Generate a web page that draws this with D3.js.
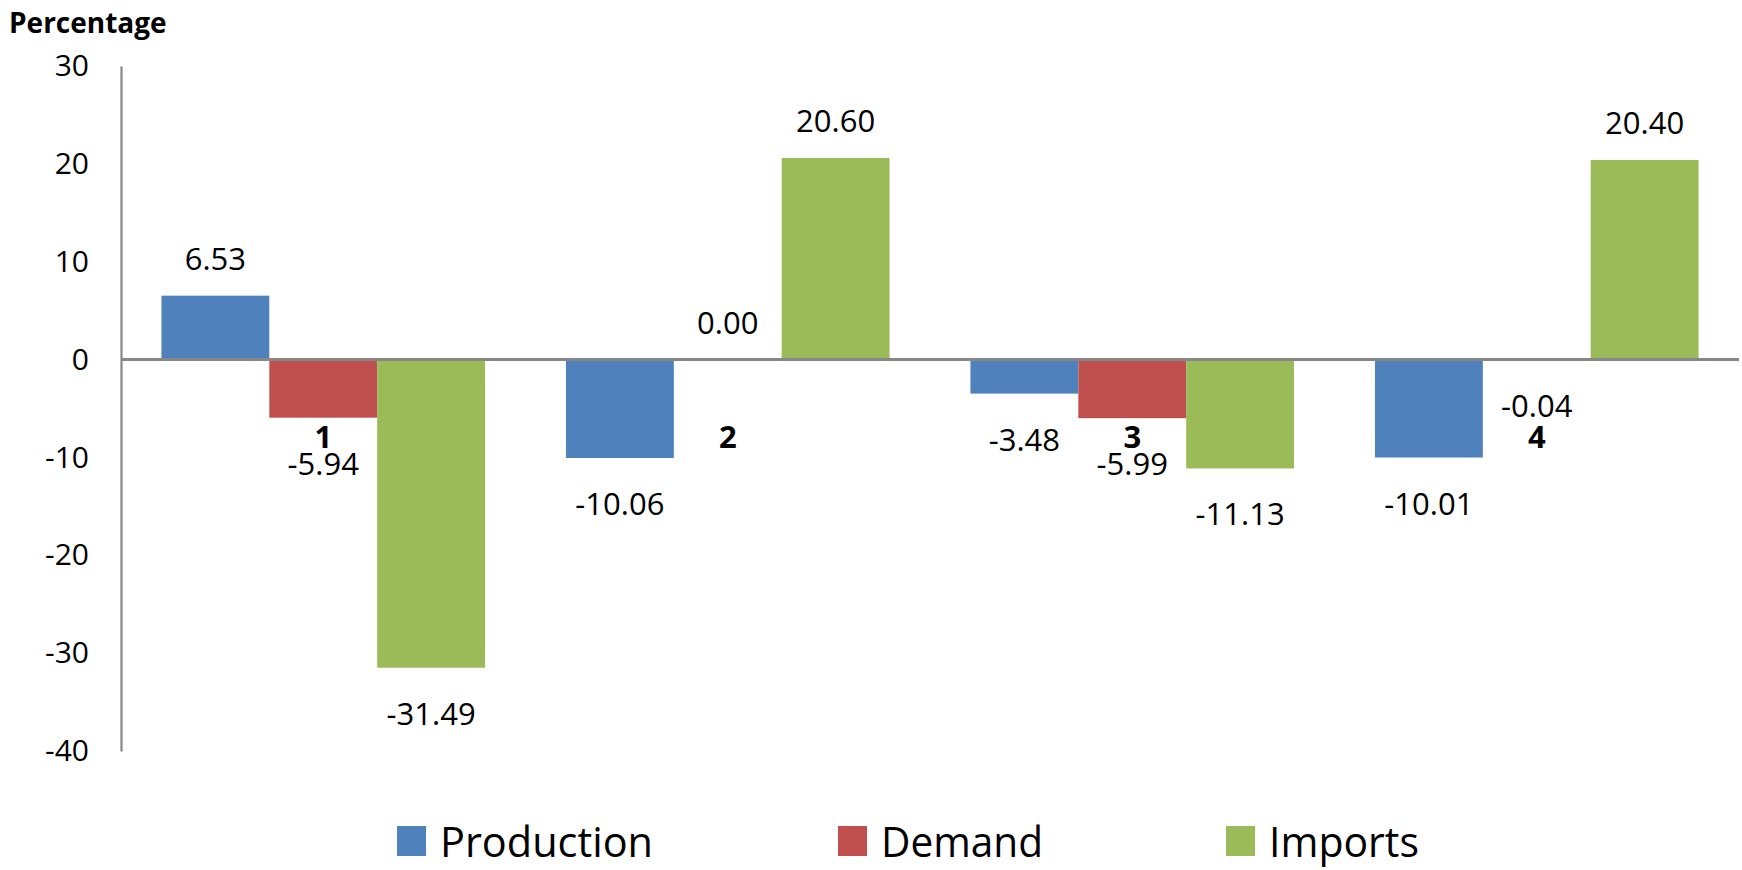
<!DOCTYPE html>
<html>
<head>
<meta charset="utf-8">
<script src="https://cdn.jsdelivr.net/npm/d3@7"></script>
<style>
  body { margin: 0; background: #fff; }
  svg { display: block; font-family: "Open Sans", sans-serif; }
</style>
</head>
<body>
<script>
const categories = ["1", "2", "3", "4"];
const seriesNames = ["Production", "Demand", "Imports"];
const production = [6.53, -10.06, -3.48, -10.01];
const demand = [-5.94, 0.00, -5.99, -0.04];
const imports = [-31.49, 20.60, -11.13, 20.40];
const yTicks = [30, 20, 10, 0, -10, -20, -30, -40];
const colors = ["#4F81BD", "#C0504D", "#9BBB59"];

const width = 1742;
const height = 870;

const dataset = [];
categories.forEach((c, i) => {
  dataset.push({cat: c, series: "Production", value: production[i]});
  dataset.push({cat: c, series: "Demand", value: demand[i]});
  dataset.push({cat: c, series: "Imports", value: imports[i]});
});

const svg = d3.select("body").append("svg")
  .attr("width", width)
  .attr("height", height);

const yScale = d3.scaleLinear()
  .domain([-40, 30])
  .range([751, 66]);

const xScale = d3.scaleBand()
  .domain(categories)
  .range([121, 1739])
  .paddingInner(0.2)
  .paddingOuter(0.1);

const xSub = d3.scaleBand()
  .domain(seriesNames)
  .range([0, xScale.bandwidth()]);

const color = d3.scaleOrdinal()
  .domain(seriesNames)
  .range(colors);

// y axis
const yAxis = svg.append("g")
  .attr("transform", "translate(121,0)")
  .call(d3.axisLeft(yScale).tickValues(yTicks).tickSize(0).tickSizeOuter(0)
    .tickPadding(32).tickFormat(d => String(d)));
yAxis.select(".domain").attr("stroke", "#878787").attr("stroke-width", 2.2);
yAxis.selectAll("text")
  .attr("font-size", 30)
  .attr("font-family", "Open Sans, sans-serif")
  .attr("fill", "#000");

svg.append("text")
  .attr("x", 9)
  .attr("y", 33)
  .attr("font-size", 28)
  .attr("font-weight", "bold")
  .text("Percentage");

// bars
svg.append("g")
  .selectAll("rect")
  .data(dataset)
  .join("rect")
    .attr("x", d => xScale(d.cat) + xSub(d.series))
    .attr("y", d => yScale(Math.max(0, d.value)))
    .attr("width", xSub.bandwidth())
    .attr("height", d => Math.abs(yScale(d.value) - yScale(0)))
    .attr("fill", d => color(d.series));

// zero line
svg.append("line")
  .attr("x1", 121)
  .attr("x2", 1739)
  .attr("y1", yScale(0))
  .attr("y2", yScale(0))
  .attr("stroke", "#878787")
  .attr("stroke-width", 3);

// value labels
svg.append("g")
  .selectAll("text")
  .data(dataset)
  .join("text")
    .attr("x", d => xScale(d.cat) + xSub(d.series) + xSub.bandwidth() / 2)
    .attr("y", d => d.value >= 0 ? yScale(d.value) - 26 : yScale(d.value) + 57)
    .attr("text-anchor", "middle")
    .attr("font-size", 31)
    .text(d => d.value.toFixed(2));

// category labels
svg.append("g")
  .selectAll("text")
  .data(categories)
  .join("text")
    .attr("x", d => xScale(d) + xScale.bandwidth() / 2)
    .attr("y", 448)
    .attr("text-anchor", "middle")
    .attr("font-size", 31)
    .attr("font-weight", "bold")
    .text(d => d);

// legend
const legendX = [397, 838, 1226];
const legendW = [213, 162, 150];
const legend = svg.append("g")
  .selectAll("g")
  .data(seriesNames)
  .join("g")
    .attr("transform", (d, i) => `translate(${legendX[i]},0)`);

legend.append("rect")
  .attr("y", 826)
  .attr("width", 29)
  .attr("height", 30)
  .attr("fill", d => color(d));

legend.append("text")
  .attr("x", 43)
  .attr("y", 857)
  .attr("font-size", 42)
  .attr("textLength", (d, i) => legendW[i])
  .attr("lengthAdjust", "spacingAndGlyphs")
  .text(d => d);
</script>
</body>
</html>
